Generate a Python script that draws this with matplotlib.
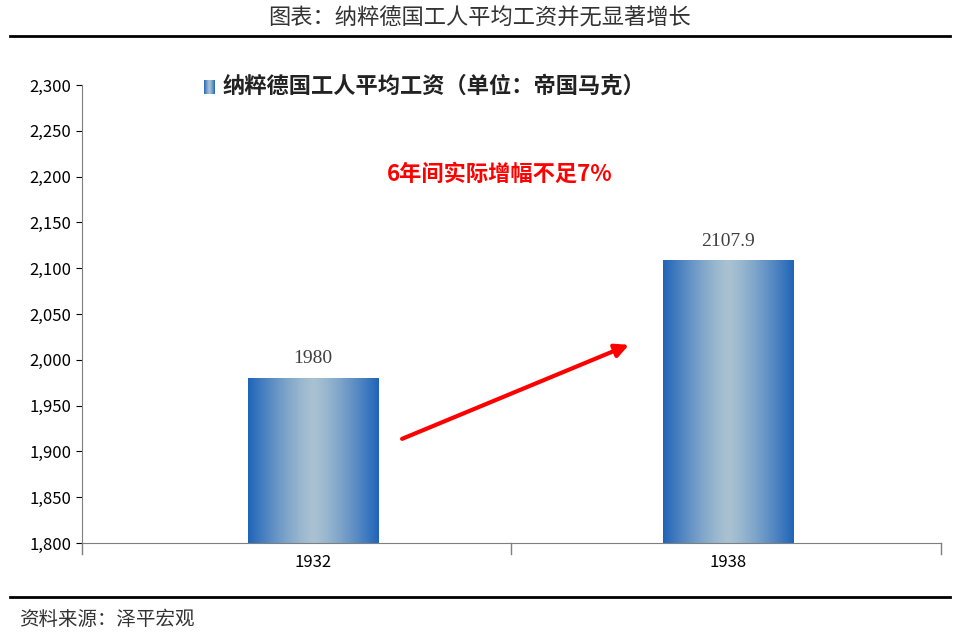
import matplotlib
matplotlib.use("Agg")
import matplotlib.pyplot as plt
import numpy as np

plt.rcParams['font.family'] = ['Noto Sans CJK SC', 'DejaVu Sans']

years = ["1932", "1938"]
wages = [1980, 2107.9]
wage_labels = ["1980", "2107.9"]

EDGE = np.array([0x1f, 0x64, 0xb8]) / 255
MID = np.array([0xa9, 0xc2, 0xd2]) / 255

t = np.linspace(0, 1, 256)
w = 1 - np.abs(2 * t - 1) ** 1.3
grad = (EDGE[None, :] * (1 - w[:, None]) + MID[None, :] * w[:, None])[None, :, :]

fig = plt.figure(figsize=(9.6, 6.37), dpi=100)
ax = fig.add_axes([0.085, 0.1476, 0.895, 0.719])

x = np.arange(len(years))
bw = 0.314
for xi, v, lab in zip(x, wages, wage_labels):
    ax.imshow(grad, extent=[xi - bw / 2, xi + bw / 2, 1800, v], aspect="auto", zorder=2)
    ax.text(xi, v + 12, lab, ha="center", va="bottom", fontsize=14,
            family=["Liberation Serif", "DejaVu Serif"], color="#404040")

ax.set_xlim(-0.557, 1.513)
ax.set_ylim(1800, 2300)
ax.set_yticks(np.arange(1800, 2301, 50))
ax.set_yticklabels([f"{v:,}" for v in range(1800, 2301, 50)], fontsize=12)
ax.set_xticks(x)
ax.set_xticklabels(years, fontsize=12)
ax.tick_params(axis="x", length=0, pad=8)
ax.tick_params(axis="y", direction="out", length=4)
for s in ["top", "right"]:
    ax.spines[s].set_visible(False)
ax.spines["left"].set_color("#7f7f7f")
ax.spines["bottom"].set_color("#7f7f7f")
for xb in [-0.557, 0.478, 1.513]:
    ax.plot([xb, xb], [1800, 1788], color="#7f7f7f", lw=1, clip_on=False)

# legend
lax = fig.add_axes([0.212, 0.853, 0.011, 0.022])
lax.imshow(grad, aspect="auto")
lax.axis("off")
fig.text(0.232, 0.864, "纳粹德国工人平均工资（单位：帝国马克）", fontsize=16,
         fontweight="bold", va="center", color="#222222")

ax.text(0.45, 2202, "6年间实际增幅不足7%", color="#ff0000", fontsize=16,
        fontweight="bold", ha="center", va="center")
ax.annotate("", xy=(0.64, 0.435), xytext=(0.37, 0.225), xycoords="axes fraction",
            arrowprops=dict(arrowstyle="-|>,head_length=0.8,head_width=0.4",
                            color="#ff0000", lw=3))

fig.text(0.5, 0.972, "图表：纳粹德国工人平均工资并无显著增长", ha="center", va="center",
         fontsize=16, color="#333333")
fig.add_artist(plt.Line2D([0.01, 0.99], [0.944, 0.944], color="black", lw=2))
fig.add_artist(plt.Line2D([0.01, 0.99], [0.063, 0.063], color="black", lw=2))
fig.text(0.02, 0.028, "资料来源：泽平宏观", fontsize=14, style="italic", va="center",
         color="#333333")

fig.savefig("out.png", dpi=100)
